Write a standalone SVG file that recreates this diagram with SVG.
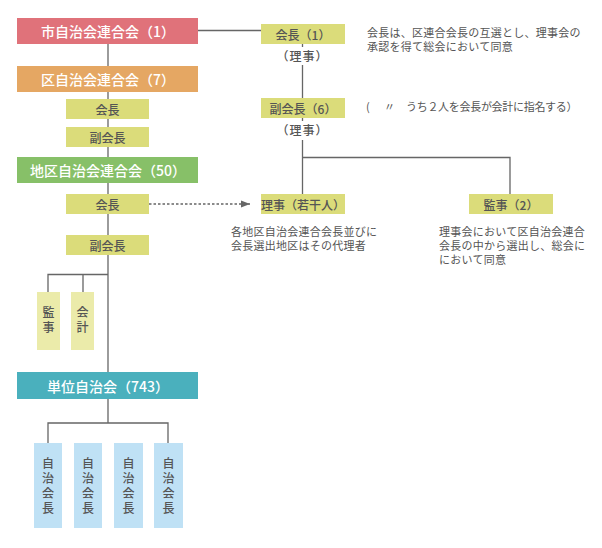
<svg xmlns="http://www.w3.org/2000/svg" width="602" height="548" viewBox="0 0 602 548">
<style>
text{font-family:"Noto Sans CJK JP","Noto Sans",sans-serif;dominant-baseline:central}
.hd{fill:#fff;font-size:14px;text-anchor:middle;font-weight:500}
.lb{fill:#555;font-size:12px;text-anchor:middle;font-weight:500}
.nt{fill:#555;font-size:11px;letter-spacing:0.25px}
.ln{stroke:#666;stroke-width:1.3;fill:none}
.yb{fill:#dbdc7a}
.ly{fill:#ebebaa}
.bl{fill:#bfe1f5}
</style>
<defs>
<marker id="ar" markerWidth="10" markerHeight="8" refX="9" refY="4" orient="auto" markerUnits="userSpaceOnUse">
<path d="M0,0.5 L9,4 L0,7.5 Z" fill="#666"/>
</marker>
</defs>
<rect width="602" height="548" fill="#fff"/>
<g id="connectors">
<path class="ln" d="M108,44 V372"/>
<path class="ln" d="M198,30.5 H261"/>
<path class="ln" d="M108,274.5 H48 V292 M83,274.5 V292"/>
<path class="ln" d="M108,398 V423 M48,443 V423 H168 V443"/>
<path class="ln" d="M302.5,44 V47 M302.5,65 V98 M302.5,118 V121 M302.5,140 V194 M302.5,157.5 H510 V194"/>
<path class="ln" d="M149,204 H250" stroke-dasharray="2.5,2" marker-end="url(#ar)"/>
</g>
<g id="city">
<rect x="17" y="18" width="181" height="26" fill="#e0727a"/>
<text class="hd" x="108" y="31">市自治会連合会（1）</text>
</g>
<g id="ward">
<rect x="17" y="66" width="181" height="26" fill="#e5a763"/>
<text class="hd" x="108" y="79">区自治会連合会（7）</text>
</g>
<g id="ward-chair">
<rect class="yb" x="66" y="99" width="83" height="20"/>
<text class="lb" x="107.5" y="109">会長</text>
</g>
<g id="ward-vice">
<rect class="yb" x="66" y="127" width="83" height="20"/>
<text class="lb" x="107.5" y="137">副会長</text>
</g>
<g id="district">
<rect x="17" y="157" width="181" height="26" fill="#87c068"/>
<text class="hd" x="108" y="170">地区自治会連合会（50）</text>
</g>
<g id="district-chair">
<rect class="yb" x="66" y="194" width="83" height="20"/>
<text class="lb" x="107.5" y="204">会長</text>
</g>
<g id="district-vice">
<rect class="yb" x="66" y="235" width="83" height="20"/>
<text class="lb" x="107.5" y="245">副会長</text>
</g>
<g id="auditor-d">
<rect class="ly" x="37" y="292" width="23" height="58"/>
<text class="lb"><tspan x="48.5" y="311">監</tspan><tspan x="48.5" y="326">事</tspan></text>
</g>
<g id="accountant-d">
<rect class="ly" x="71" y="292" width="23" height="58"/>
<text class="lb"><tspan x="82.5" y="311">会</tspan><tspan x="82.5" y="326">計</tspan></text>
</g>
<g id="unit">
<rect x="17" y="372" width="181" height="27" fill="#4ab0bd"/>
<text class="hd" x="108" y="385.5">単位自治会（743）</text>
</g>
<g id="unit-chair-1">
<rect class="bl" x="34" y="443" width="28" height="85"/>
<text class="lb"><tspan x="48" y="462">自</tspan><tspan x="48" y="477">治</tspan><tspan x="48" y="492">会</tspan><tspan x="48" y="507">長</tspan></text>
</g>
<g id="unit-chair-2">
<rect class="bl" x="74" y="443" width="28" height="85"/>
<text class="lb"><tspan x="88" y="462">自</tspan><tspan x="88" y="477">治</tspan><tspan x="88" y="492">会</tspan><tspan x="88" y="507">長</tspan></text>
</g>
<g id="unit-chair-3">
<rect class="bl" x="114" y="443" width="29" height="85"/>
<text class="lb"><tspan x="128.5" y="462">自</tspan><tspan x="128.5" y="477">治</tspan><tspan x="128.5" y="492">会</tspan><tspan x="128.5" y="507">長</tspan></text>
</g>
<g id="unit-chair-4">
<rect class="bl" x="154" y="443" width="29" height="85"/>
<text class="lb"><tspan x="168.5" y="462">自</tspan><tspan x="168.5" y="477">治</tspan><tspan x="168.5" y="492">会</tspan><tspan x="168.5" y="507">長</tspan></text>
</g>
<g id="chair">
<rect class="yb" x="261" y="24" width="84" height="20"/>
<text class="lb" x="303" y="34">会長（1）</text>
<text class="lb" x="302.5" y="55.5" letter-spacing="1">（理事）</text>
<text class="nt"><tspan x="367" y="31.5">会長は、区連合会長の互選とし、理事会の</tspan><tspan x="367" y="46">承認を得て総会において同意</tspan></text>
</g>
<g id="vice">
<rect class="yb" x="261" y="98" width="84" height="20"/>
<text class="lb" x="303" y="108">副会長（6）</text>
<text class="lb" x="302.5" y="129.5" letter-spacing="1">（理事）</text>
<text class="nt" xml:space="preserve"><tspan x="366" y="105.5">(</tspan><tspan x="384" y="105.5">〃</tspan><tspan x="406" y="105.5" letter-spacing="-0.3">うち２人を会長が会計に指名する）</tspan></text>
</g>
<g id="directors">
<rect class="yb" x="261" y="194" width="84" height="20"/>
<text class="lb" x="303" y="204">理事（若干人）</text>
<text class="nt"><tspan x="231" y="231">各地区自治会連合会長並びに</tspan><tspan x="231" y="245">会長選出地区はその代理者</tspan></text>
</g>
<g id="auditors">
<rect class="yb" x="469" y="194" width="84" height="20"/>
<text class="lb" x="511" y="204">監事（2）</text>
<text class="nt"><tspan x="439" y="231">理事会において区自治会連合</tspan><tspan x="439" y="245">会長の中から選出し、総会に</tspan><tspan x="439" y="259">において同意</tspan></text>
</g>
</svg>
